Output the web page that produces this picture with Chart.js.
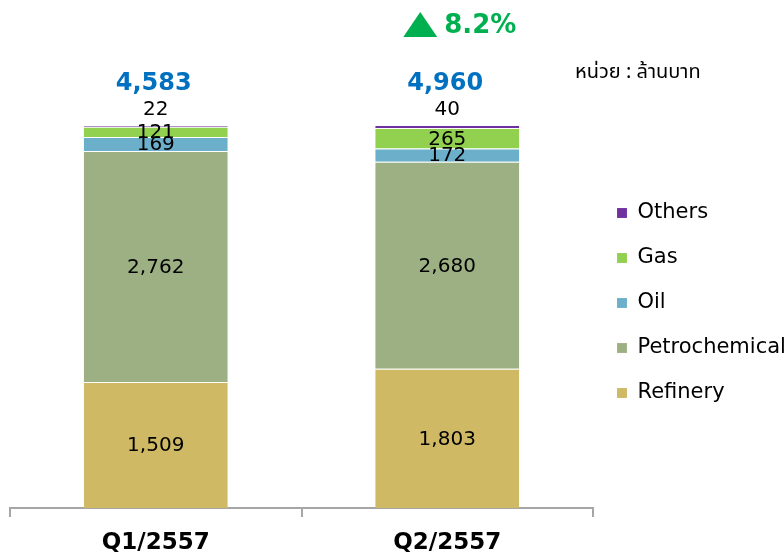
<!DOCTYPE html>
<html>
<head>
<meta charset="utf-8">
<script src="https://cdn.jsdelivr.net/npm/chart.js@4/dist/chart.umd.min.js"></script>
<style>
  html, body { margin: 0; padding: 0; background: #ffffff; }
  #wrap { position: relative; width: 784px; height: 553px; }
</style>
</head>
<body>
<div id="wrap"><canvas id="c" width="784" height="553"></canvas></div>
<script>
const categories = ['Q1/2557', 'Q2/2557'];
const refinery = [1509, 1803];
const petrochemical = [2762, 2680];
const oil = [169, 172];
const gas = [121, 265];
const others = [22, 40];
const totals = [4583, 4960];
const growthText = '8.2%';
const unitText = 'หน่วย : ล้านบาท';

const seriesNames = ['Refinery', 'Petrochemical', 'Oil', 'Gas', 'Others'];
const seriesValues = [refinery, petrochemical, oil, gas, others];
const seriesColors = ['#CFB965', '#9CB084', '#6BAFCA', '#92D050', '#7030A0'];

function share(arr) {
  return arr.map((v, i) => v / totals[i] * 100);
}

const fmt = v => v.toLocaleString('en-US');

const labelPlugin = {
  id: 'labels',
  afterDatasetsDraw(chart) {
    const ctx = chart.ctx;
    ctx.save();
    ctx.textAlign = 'center';
    ctx.textBaseline = 'middle';
    chart.data.datasets.forEach((ds, di) => {
      const meta = chart.getDatasetMeta(di);
      meta.data.forEach((el, i) => {
        const raw = seriesValues[di][i];
        ctx.fillStyle = '#000000';
        ctx.font = '20px "DejaVu Sans", sans-serif';
        let y;
        if (di === seriesValues.length - 1) {
          y = el.y - 15;
        } else {
          y = (el.y + el.base) / 2 + 1;
        }
        ctx.fillText(fmt(raw), el.x, y);
      });
    });
    // totals
    const topMeta = chart.getDatasetMeta(chart.data.datasets.length - 1);
    topMeta.data.forEach((el, i) => {
      ctx.fillStyle = '#0070C0';
      ctx.font = 'bold 24px "DejaVu Sans", sans-serif';
      ctx.fillText(fmt(totals[i]), el.x - 2, el.y - 41);
    });
    // growth
    const el2 = topMeta.data[1];
    const gx = el2.x;
    ctx.fillStyle = '#00B050';
    ctx.beginPath();
    ctx.moveTo(gx - 44, 37);
    ctx.lineTo(gx - 27, 12);
    ctx.lineTo(gx - 10, 37);
    ctx.closePath();
    ctx.fill();
    ctx.font = 'bold 26px "DejaVu Sans", sans-serif';
    ctx.textAlign = 'left';
    ctx.fillText(growthText, gx - 3, 26);
    // unit
    ctx.fillStyle = '#000000';
    ctx.font = '20px Tahoma, "Noto Sans Thai", "Noto Sans", "DejaVu Sans", sans-serif';
    ctx.fillText(unitText, 575, 74);
    ctx.restore();
  }
};

new Chart(document.getElementById('c'), {
  type: 'bar',
  data: {
    labels: categories,
    datasets: seriesNames.map((n, k) => ({
      label: n,
      data: share(seriesValues[k]),
      backgroundColor: seriesColors[k],
      borderColor: 'rgba(255,255,255,0.45)',
      borderWidth: { top: 1, left: 0, right: 0, bottom: 0 },
      borderSkipped: false,
      categoryPercentage: 1,
      barPercentage: 0.494
    }))
  },
  options: {
    responsive: false,
    animation: false,
    layout: { padding: { top: 125, left: 10, right: 0, bottom: 0 } },
    scales: {
      x: {
        stacked: true,
        afterFit(scale) { scale.height = 45; },
        grid: { display: true, drawOnChartArea: false, drawTicks: true, tickLength: 9, color: '#A6A6A6', lineWidth: 2 },
        border: { display: true, color: '#A6A6A6', width: 2 },
        ticks: { color: '#000000', font: { family: '"DejaVu Sans", sans-serif', size: 23, weight: 'bold' }, padding: 12 }
      },
      y: { stacked: true, display: false, min: 0, max: 100 }
    },
    plugins: {
      legend: {
        position: 'right',
        align: 'start',
        reverse: true,
        fullSize: false,
        maxWidth: 191,
        title: { display: true, text: ' ', font: { size: 10 }, padding: { top: 41.5, bottom: 0 } },
        labels: {
          boxWidth: 10,
          boxHeight: 10,
          padding: 24,
          color: '#000000',
          font: { family: '"DejaVu Sans", sans-serif', size: 21 }
        }
      },
      tooltip: { enabled: false }
    }
  },
  plugins: [labelPlugin]
});
</script>
</body>
</html>
